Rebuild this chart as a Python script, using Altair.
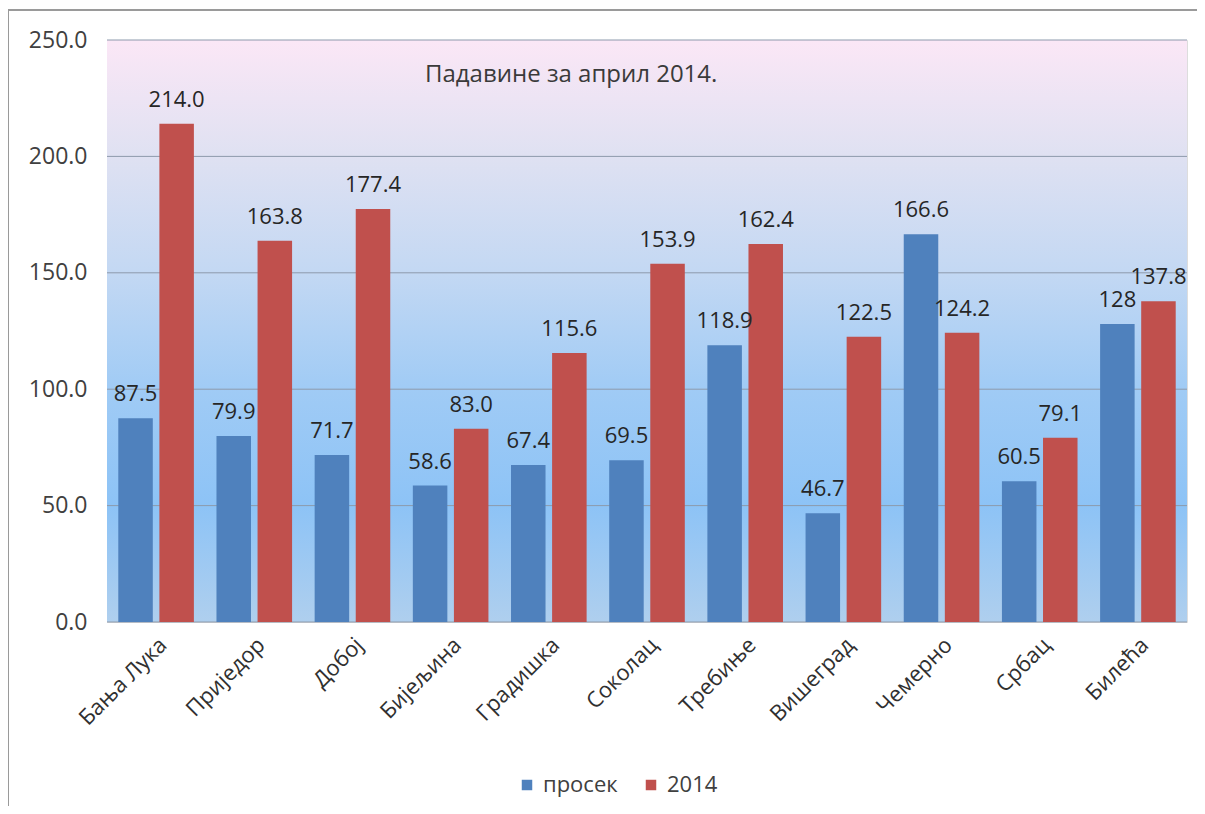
import altair as alt
import pandas as pd

categories = ["Бања Лука", "Приједор", "Добој", "Бијељина", "Градишка", "Соколац",
              "Требиње", "Вишеград", "Чемерно", "Србац", "Билећа"]
series_names = ["просек", "2014"]
prosek = [87.5, 79.9, 71.7, 58.6, 67.4, 69.5, 118.9, 46.7, 166.6, 60.5, 128]
y2014 = [214.0, 163.8, 177.4, 83.0, 115.6, 153.9, 162.4, 122.5, 124.2, 79.1, 137.8]
prosek_labels = ["87.5", "79.9", "71.7", "58.6", "67.4", "69.5", "118.9", "46.7", "166.6", "60.5", "128"]
y2014_labels = ["214.0", "163.8", "177.4", "83.0", "115.6", "153.9", "162.4", "122.5", "124.2", "79.1", "137.8"]
y_ticks = [0, 50, 100, 150, 200, 250]
title_text = "Падавине за април 2014."

rows = []
for c, v, l in zip(categories, prosek, prosek_labels):
    rows.append({"cat": c, "series": series_names[0], "value": v, "label": l})
for c, v, l in zip(categories, y2014, y2014_labels):
    rows.append({"cat": c, "series": series_names[1], "value": v, "label": l})
df = pd.DataFrame(rows)
grid_df = pd.DataFrame({"v": y_ticks})
one = pd.DataFrame({"a": [0]})

W, H = 1080, 582
FONT = "Open Sans"

yscale = alt.Scale(domain=[0, 250], nice=False, zero=True)
yaxis = alt.Axis(values=y_ticks, format=".1f", title=None, grid=False, ticks=False,
                 domain=False, labelFontSize=23, labelColor="#404040", labelPadding=20,
                 labelFont=FONT)
xscale = alt.Scale(paddingInner=0.23, paddingOuter=0.115)
xaxis = alt.Axis(title=None, ticks=False, domain=False, labelAngle=-45, labelAlign="right",
                 labelBaseline="top", labelFontSize=22, labelColor="#303030",
                 labelPadding=12, labelOffset=0, labelFont=FONT)

border_left = alt.Chart(one).mark_rule(color="#9a9a9a", strokeWidth=2).encode(
    x=alt.value(-99), y=alt.value(-30), y2=alt.value(766))
border_top = alt.Chart(one).mark_rule(color="#9a9a9a", strokeWidth=2).encode(
    x=alt.value(-99), x2=alt.value(1090), y=alt.value(-30))

bg = alt.Chart(one).mark_rect(
    color=alt.Gradient(gradient="linear", x1=0, x2=0, y1=0, y2=1,
                       stops=[alt.GradientStop(offset=0.0, color="#FBE7F6"),
                              alt.GradientStop(offset=0.2, color="#DFE1F2"),
                              alt.GradientStop(offset=0.4, color="#C3D8F3"),
                              alt.GradientStop(offset=0.6, color="#A0CBF5"),
                              alt.GradientStop(offset=0.8, color="#8DC3F6"),
                              alt.GradientStop(offset=1.0, color="#AFCFEE")])
).encode(x=alt.value(0), x2=alt.value(W), y=alt.value(0), y2=alt.value(H))

rules = alt.Chart(grid_df).mark_rule(color="#8d9aac", strokeWidth=1).encode(
    y=alt.Y("v:Q", scale=yscale, axis=yaxis))

bars = alt.Chart(df).mark_bar().encode(
    x=alt.X("cat:N", sort=categories, scale=xscale, axis=xaxis),
    xOffset=alt.XOffset("series:N", sort=series_names, scale=alt.Scale(paddingInner=0.16)),
    y=alt.Y("value:Q", scale=yscale, axis=yaxis),
    color=alt.Color("series:N", sort=series_names,
                    scale=alt.Scale(domain=series_names, range=["#4F81BD", "#C0504D"]),
                    legend=alt.Legend(title=None, orient="none", legendX=409, legendY=734,
                                      direction="horizontal", symbolType="square",
                                      symbolSize=110, labelFontSize=22, labelFont=FONT,
                                      labelColor="#404040", columnPadding=22,
                                      labelOffset=5, symbolStrokeWidth=0)),
)

labels = alt.Chart(df).mark_text(dy=-24, baseline="middle", fontSize=22, font=FONT,
                                 color="#262626").encode(
    x=alt.X("cat:N", sort=categories, scale=xscale, axis=xaxis),
    xOffset=alt.XOffset("series:N", sort=series_names, scale=alt.Scale(paddingInner=0.16)),
    y=alt.Y("value:Q", scale=yscale, axis=yaxis),
    text="label:N",
)

chart = alt.layer(border_left, border_top, bg, rules, bars, labels).properties(
    width=W, height=H,
    autosize=alt.AutoSizeParams(type="none"),
    padding={"left": 99, "top": 32, "right": 10, "bottom": 184},
    title=alt.TitleParams(title_text, anchor="start", dx=418, dy=82, fontSize=24,
                          fontWeight="normal", color="#3a3a3a", font=FONT),
).configure_view(strokeWidth=0).configure(background="white")

chart.save("out.html", embed_options={"renderer": "svg", "actions": False})
